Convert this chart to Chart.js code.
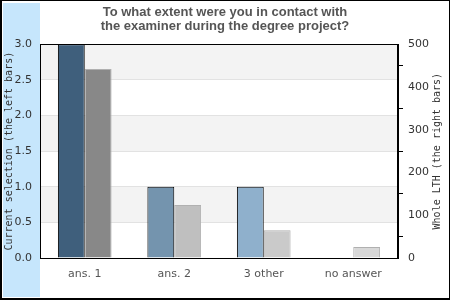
<!DOCTYPE html>
<html>
<head>
<meta charset="utf-8">
<script src="https://cdn.jsdelivr.net/npm/chart.js@4"></script>
<style>
  html, body { margin: 0; padding: 0; background: #fff; }
  #wrap { width: 450px; height: 300px; }
</style>
</head>
<body>
<div id="wrap"><canvas id="examinerChart" width="450" height="300"></canvas></div>
<script>
const categories = ["ans. 1", "ans. 2", "3 other", "no answer"];
const currentSelection = [3, 1, 1, 0];
const wholeLTH = [442, 124, 65, 26];
const leftTicks = [0, 0.5, 1, 1.5, 2, 2.5, 3];
const rightTicks = [0, 100, 200, 300, 400, 500];

const currentColors = ["#3f5f7c", "#7494ae", "#8fb0cc", "#b0c8dc"];
const wholeColors = ["#888888", "#bfbfbf", "#cacaca", "#d8d8d8"];

// frame, blue side band, striped plot background, plot border, right axis title
const decorations = {
    id: "decorations",
    beforeDraw(chart) {
        const c = chart.ctx;
        c.save();
        c.fillStyle = "#000";
        c.fillRect(0, 0, 450, 300);
        c.fillStyle = "#fff";
        c.fillRect(2, 1, 447, 297);
        c.fillStyle = "#c6e6fc";
        c.fillRect(3, 3, 37, 294);
        const a = chart.chartArea;
        const y = chart.scales.y;
        c.fillStyle = "#f3f3f3";
        for (let i = 0; i < leftTicks.length - 1; i++) {
            if ((leftTicks.length - 2 - i) % 2 === 0) {
                const top = y.getPixelForValue(leftTicks[i + 1]);
                const bot = y.getPixelForValue(leftTicks[i]);
                c.fillRect(a.left, top, a.right - a.left, bot - top);
            }
        }
        c.restore();
    },
    afterDraw(chart) {
        const c = chart.ctx;
        const a = chart.chartArea;
        c.save();
        c.strokeStyle = "#000";
        c.lineWidth = 1;
        c.strokeRect(Math.round(a.left) + 0.5, Math.round(a.top) + 0.5,
            Math.round(a.right - a.left) - 1, Math.round(a.bottom - a.top));
        c.translate(437, (a.top + a.bottom) / 2);
        c.rotate(-Math.PI / 2);
        c.font = "10px 'DejaVu Sans Mono'";
        c.fillStyle = "#333";
        c.textAlign = "center";
        c.textBaseline = "middle";
        c.fillText("Whole LTH (the right bars)", 0, 0);
        c.restore();
    }
};

new Chart(document.getElementById("examinerChart").getContext("2d"), {
    type: "bar",
    data: {
        labels: categories,
        datasets: [{
            label: "Current selection",
            data: currentSelection,
            yAxisID: "y",
            backgroundColor: currentColors,
            borderColor: "#000",
            borderWidth: 1
        }, {
            label: "Whole LTH",
            data: wholeLTH,
            yAxisID: "y1",
            backgroundColor: wholeColors,
            borderColor: "#b0b0b0",
            borderWidth: 1
        }]
    },
    options: {
        responsive: false,
        animation: false,
        layout: { padding: 0 },
        datasets: { bar: { categoryPercentage: 0.6, barPercentage: 1.0 } },
        plugins: {
            legend: { display: false },
            tooltip: { enabled: false },
            title: {
                display: true,
                text: ["To what extent were you in contact with", "the examiner during the degree project?"],
                color: "#555",
                font: { family: "'Liberation Sans', Arial", size: 13, weight: "bold", lineHeight: 1.05 },
                padding: { top: 6, bottom: 11 }
            }
        },
        scales: {
            x: {
                grid: { display: false, drawTicks: false },
                border: { display: false },
                ticks: { color: "#555", font: { family: "'DejaVu Sans'", size: 11 }, padding: 10, maxRotation: 0 },
                afterFit: s => { s.height = 42; }
            },
            y: {
                position: "left",
                min: 0, max: 3,
                afterBuildTicks: s => { s.ticks = leftTicks.map(v => ({ value: v })); },
                ticks: {
                    color: "#333",
                    font: { family: "'DejaVu Sans'", size: 11 },
                    padding: 8,
                    callback: v => v.toFixed(1)
                },
                grid: { color: "#e2e2e2", drawTicks: false },
                border: { color: "#000" },
                title: {
                    display: true,
                    text: "Current selection (the left bars)",
                    color: "#333",
                    font: { family: "'DejaVu Sans Mono'", size: 10 },
                    padding: { top: 3, bottom: 0 }
                },
                afterFit: s => { s.width = 40; }
            },
            y1: {
                position: "right",
                min: 0, max: 500,
                ticks: {
                    stepSize: 50,
                    color: "#333",
                    font: { family: "'DejaVu Sans'", size: 11 },
                    padding: 5,
                    callback: v => rightTicks.includes(v) ? String(v) : ""
                },
                grid: {
                    drawOnChartArea: false,
                    drawTicks: true,
                    tickLength: 5,
                    tickColor: ctx => (ctx.tick && ctx.tick.value % 100 !== 0) ? "#000" : "rgba(0,0,0,0)"
                },
                border: { color: "#000" },
                afterFit: s => { s.width = 52; }
            }
        }
    },
    plugins: [decorations]
});
</script>
</body>
</html>
